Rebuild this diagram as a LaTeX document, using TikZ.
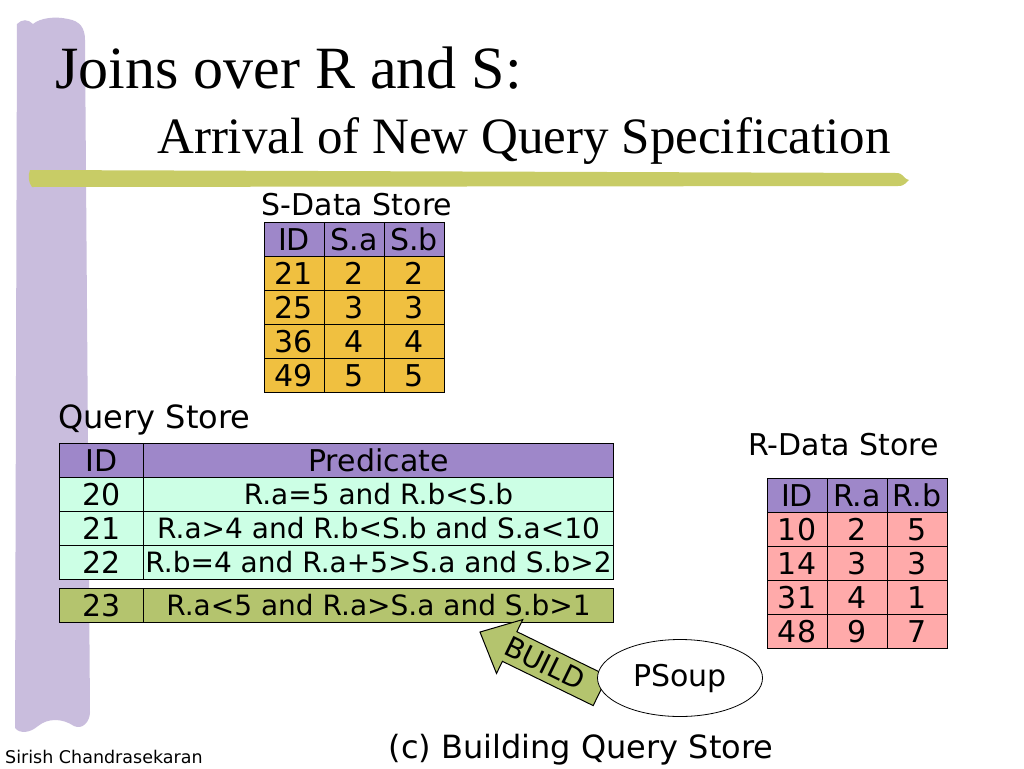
\documentclass[tikz,border=0pt]{standalone}
\usepackage{fontspec}
\setmainfont{DejaVu Sans}
\newfontfamily\titlefont{Liberation Serif}
\usetikzlibrary{shapes.geometric}
\definecolor{stripe}{RGB}{201,189,221}
\definecolor{bar}{RGB}{200,204,102}
\definecolor{headrow}{RGB}{158,135,201}
\definecolor{sbody}{RGB}{240,192,64}
\definecolor{rbody}{RGB}{255,170,170}
\definecolor{qbody}{RGB}{204,255,229}
\definecolor{qnew}{RGB}{180,196,110}
\newcommand{\fs}[1]{\fontsize{#1}{#1}\selectfont}
\begin{document}
\begin{tikzpicture}[x=1pt,y=-1pt,
	cell/.style={draw,line width=1pt,inner sep=0pt,minimum height=34pt,font=\fs{30},text height=22pt,text depth=0pt},
	scell/.style={cell,fill=sbody,minimum width=60pt},
	rcell/.style={cell,fill=rbody,minimum width=60pt},
	qid/.style={cell,fill=qbody,minimum width=84pt},
	qpred/.style={qid,minimum width=470pt,font=\fs{28},text height=20.5pt},
	lbl/.style={font=\fs{30},anchor=base,inner sep=0pt}]
	\useasboundingbox (0,0) rectangle (1024,768);
	\fill[white] (0,0) rectangle (1024,768);
	% slide decoration
	\fill[stripe] (17,24) .. controls (22,19) and (28,19) .. (33,24) .. controls (40,18) and (55,16) .. (68,19) .. controls (80,21) and (85,28) .. (85,40) -- (90,712) .. controls (90,722) and (82,730) .. (74,726) .. controls (62,718) and (48,718) .. (38,726) .. controls (30,733) and (20,734) .. (15,728) -- cycle;
	\fill[bar] (30,170) -- (896,173) .. controls (904,173) and (902,178) .. (909,180) .. controls (905,182) and (906,186) .. (898,186) -- (32,187) .. controls (28,182) and (28,175) .. (30,170) -- cycle;
	\node[anchor=base west,inner sep=0pt,font=\titlefont\fs{60}] (title) at (55,88) {Joins over R and S:};
	\node[anchor=base west,inner sep=0pt,font=\titlefont\fs{51}] (subtitle) at (157,153) {Arrival of New Query Specification};
	% S-Data Store
	\node[lbl] (slabel) at (357,215) {S-Data Store};
	\foreach \t [count=\c] in {ID,S.a,S.b}
		\node[scell,fill=headrow] (s-0-\c) at ({234+60*\c},239) {\t};
	\foreach \i/\a/\b [count=\r] in {21/2/2,25/3/3,36/4/4,49/5/5} {
		\node[scell] (s-\r-1) at (294,{239+34*\r}) {\i};
		\node[scell] (s-\r-2) at (354,{239+34*\r}) {\a};
		\node[scell] (s-\r-3) at (414,{239+34*\r}) {\b};
	}
	% Query Store
	\node[lbl,font=\fs{32}] (qlabel) at (154.5,428) {Query Store};
	\node[qid,fill=headrow] (q-0-1) at (101.5,460) {ID};
	\node[qpred,fill=headrow,font=\fs{30},text height=22pt] (q-0-2) at (378.5,460) {Predicate};
	\foreach \i/\p [count=\r] in {20/{R.a=5 and R.b<S.b},21/{R.a>4 and R.b<S.b and S.a<10},22/{R.b=4 and R.a+5>S.a and S.b>2}} {
		\node[qid] (q-\r-1) at (101.5,{460+34*\r}) {\i};
		\node[qpred] (q-\r-2) at (378.5,{460+34*\r}) {\p};
	}
	\node[qid,fill=qnew] (new-1) at (101.5,605) {23};
	\node[qpred,fill=qnew] (new-2) at (378.5,605) {R.a<5 and R.a>S.a and S.b>1};
	% R-Data Store
	\node[lbl] (rlabel) at (843.5,455) {R-Data Store};
	\foreach \t [count=\c] in {ID,R.a,R.b}
		\node[rcell,fill=headrow] (r-0-\c) at ({737+60*\c},495) {\t};
	\foreach \i/\a/\b [count=\r] in {10/2/5,14/3/3,31/4/1,48/9/7} {
		\node[rcell] (r-\r-1) at (797,{495+34*\r}) {\i};
		\node[rcell] (r-\r-2) at (857,{495+34*\r}) {\a};
		\node[rcell] (r-\r-3) at (917,{495+34*\r}) {\b};
	}
	% BUILD arrow and PSoup
	\begin{scope}[shift={(540.2,661.4)},rotate=-26]
		\draw[fill=qnew,line width=1pt] (-67,0) -- (-34,-30) -- (-34,-16.5) -- (67,-16.5) -- (67,16.5) -- (-34,16.5) -- (-34,30) -- cycle;
		\node[rotate=-26,inner sep=0pt,font=\fs{28}] (build) at (5,0) {BUILD};
	\end{scope}
	\node[draw,ellipse,fill=white,line width=0.8pt,minimum width=165pt,minimum height=77pt,inner sep=0pt,font=\fs{30}] (psoup) at (680,678) {PSoup};
	\node[lbl,font=\fs{32}] (caption) at (581,758) {(c) Building Query Store};
	\node[anchor=base west,inner sep=0pt,font=\fs{17.5}] (author) at (5,763) {Sirish Chandrasekaran};
\end{tikzpicture}
\end{document}
